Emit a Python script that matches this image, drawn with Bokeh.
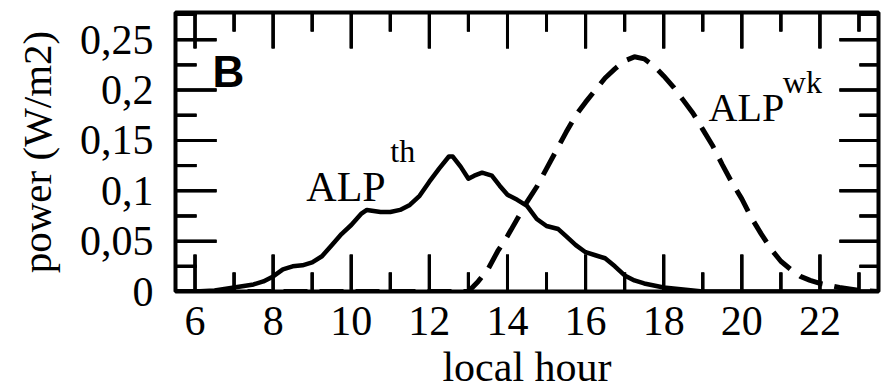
import math
from bokeh.plotting import figure
from bokeh.models import (LinearAxis, FixedTicker, Range1d, Label, ColumnDataSource,
                          BoxAnnotation)
from bokeh.embed import file_html
from bokeh.resources import INLINE

# ALP^th (solid curve)
hours_th = [5.5, 6.0, 6.5, 7.0, 7.5, 7.75, 8.0, 8.25, 8.5, 8.75, 9.0, 9.25, 9.5, 9.75,
            10.0, 10.25, 10.4, 10.75, 11.0, 11.25, 11.5, 11.75, 12.0, 12.25, 12.5, 12.6,
            12.8, 13.0, 13.15, 13.35, 13.6, 13.8, 14.0, 14.25, 14.5, 14.75, 15.0, 15.3,
            15.5, 15.75, 16.0, 16.25, 16.5, 16.75, 17.0, 17.25, 17.5, 17.75, 18.0, 18.5,
            19.0, 23.5]
power_th = [0.0, 0.0, 0.001, 0.004, 0.007, 0.010, 0.015, 0.022, 0.025, 0.026, 0.029, 0.035,
            0.046, 0.057, 0.066, 0.077, 0.081, 0.079, 0.079, 0.081, 0.086, 0.095, 0.109,
            0.122, 0.134, 0.134, 0.124, 0.112, 0.115, 0.118, 0.115, 0.105, 0.096, 0.091,
            0.085, 0.072, 0.065, 0.062, 0.055, 0.046, 0.039, 0.036, 0.033, 0.025, 0.016,
            0.011, 0.008, 0.006, 0.004, 0.002, 0.0, 0.0]

# ALP^wk (dashed curve)
hours_wk = [5.5, 13.0, 13.25, 13.5, 13.75, 14.0, 14.25, 14.5, 14.75, 15.0, 15.25, 15.5,
            15.75, 16.0, 16.25, 16.5, 16.75, 17.0, 17.25, 17.5, 17.75, 18.0, 18.25, 18.5,
            18.75, 19.0, 19.25, 19.5, 19.75, 20.0, 20.25, 20.5, 20.75, 21.0, 21.25, 21.5,
            21.75, 22.0, 22.5, 23.0, 23.5]
power_wk = [0.0, 0.0, 0.010, 0.022, 0.040, 0.055, 0.072, 0.089, 0.104, 0.122, 0.140, 0.158,
            0.175, 0.188, 0.200, 0.212, 0.221, 0.229, 0.233, 0.231, 0.224, 0.214, 0.203,
            0.190, 0.177, 0.161, 0.145, 0.126, 0.108, 0.092, 0.073, 0.057, 0.042, 0.030,
            0.022, 0.015, 0.011, 0.008, 0.004, 0.001, 0.0]

x_ticks = [6, 8, 10, 12, 14, 16, 18, 20, 22]
x_tick_labels = ["6", "8", "10", "12", "14", "16", "18", "20", "22"]
x_minor_ticks = [7, 9, 11, 13, 15, 17, 19, 21, 23]
y_ticks = [0, 0.05, 0.1, 0.15, 0.2, 0.25]
y_tick_labels = ["0", "0,05", "0,1", "0,15", "0,2", "0,25"]
y_minor_ticks = [0.025, 0.075, 0.125, 0.175, 0.225, 0.275]

X_MIN, X_MAX = 5.5, 23.5
Y_MIN, Y_MAX = 0.0, 0.277

W, H = 881, 392
B_LEFT, B_RIGHT, B_TOP, B_BOTTOM = 175, 3, 12, 100
FRAME_W = W - B_LEFT - B_RIGHT
FRAME_H = H - B_TOP - B_BOTTOM
PX_X = (X_MAX - X_MIN) / FRAME_W   # data units per screen pixel
PX_Y = (Y_MAX - Y_MIN) / FRAME_H

SERIF = "Liberation Serif"

p = figure(width=W, height=H, x_range=Range1d(X_MIN, X_MAX), y_range=Range1d(Y_MIN, Y_MAX),
           output_backend="svg", toolbar_location=None,
           x_axis_location=None, y_axis_location=None,
           min_border_left=B_LEFT, min_border_right=B_RIGHT,
           min_border_top=B_TOP, min_border_bottom=B_BOTTOM)
p.grid.visible = False
p.background_fill_color = "white"
p.border_fill_color = "white"
p.outline_line_color = "black"
p.outline_line_width = 4


def make_axis(ticks, labels, standoff):
    ax = LinearAxis(ticker=FixedTicker(ticks=ticks, minor_ticks=[]))
    ax.axis_line_color = None
    ax.major_tick_in = 0
    ax.major_tick_out = 0
    ax.minor_tick_in = 0
    ax.minor_tick_out = 0
    ax.major_tick_line_color = None
    ax.minor_tick_line_color = None
    ax.major_label_text_font = SERIF
    ax.major_label_text_color = "black"
    ax.major_label_text_font_size = "42px"
    ax.major_label_standoff = standoff
    ax.major_label_overrides = dict(zip(ticks, labels))
    return ax


xb = make_axis(x_ticks, x_tick_labels, 15)
xb.axis_label = "local hour"
xb.axis_label_text_font = SERIF
xb.axis_label_text_font_size = "42px"
xb.axis_label_text_font_style = "normal"
xb.axis_label_text_color = "black"
xb.axis_label_standoff = 6
p.add_layout(xb, "below")

yl = make_axis(y_ticks, y_tick_labels, 22)
yl.axis_label = "power (W/m2)"
yl.axis_label_text_font = SERIF
yl.axis_label_text_font_size = "41px"
yl.axis_label_text_font_style = "normal"
yl.axis_label_text_color = "black"
yl.axis_label_standoff = 17
p.add_layout(yl, "left")

src_th = ColumnDataSource(dict(x=hours_th, y=power_th))
src_wk = ColumnDataSource(dict(x=hours_wk, y=power_wk))
p.line("x", "y", source=src_wk, line_color="black", line_width=5, line_dash="24 12")
p.line("x", "y", source=src_th, line_color="black", line_width=4.5, line_join="round")

# ---- inward tick marks (lengths in screen pixels) ----
major_len = {"bottom": 37, "top": 36, "left": 41, "right": 39}
minor_len = {"bottom": 19, "top": 19, "left": 21, "right": 19}
TW = 3  # tick thickness, px

# one record per tick: centre point (data), angle, length (px), and box extents
tx, ty, tang, tlen = [], [], [], []
boxes = []
for side, edge, sign in (("bottom", Y_MIN, 1), ("top", Y_MAX, -1)):
    for ticks_, lens in ((x_ticks, major_len), (x_minor_ticks, minor_len)):
        for t in ticks_:
            ln = lens[side]
            tx.append(t)
            ty.append(edge + sign * ln / 2 * PX_Y)
            tang.append(math.pi / 2)
            tlen.append(ln)
            y_a, y_b = edge, edge + sign * ln * PX_Y
            boxes.append((t - TW / 2 * PX_X, t + TW / 2 * PX_X, min(y_a, y_b), max(y_a, y_b)))
for side, edge, sign in (("left", X_MIN, 1), ("right", X_MAX, -1)):
    for ticks_, lens in ((y_ticks, major_len), (y_minor_ticks, minor_len)):
        for t in ticks_:
            ln = lens[side]
            tx.append(edge + sign * ln / 2 * PX_X)
            ty.append(t)
            tang.append(0.0)
            tlen.append(ln)
            x_a, x_b = edge, edge + sign * ln * PX_X
            boxes.append((min(x_a, x_b), max(x_a, x_b), t - TW / 2 * PX_Y, t + TW / 2 * PX_Y))

tick_src = ColumnDataSource(dict(x=tx, y=ty, angle=tang, size=tlen))
# ticks as "dash" markers (a straight stroke of the given length, rotated)
p.scatter("x", "y", source=tick_src, marker="dash", size="size", angle="angle",
          line_color="black", line_width=TW, level="overlay")
# the same ticks as thin rectangles in screen units
p.rect("x", "y", width="size", height=TW, angle="angle", width_units="screen",
       height_units="screen", source=tick_src, fill_color="black", line_color=None,
       level="overlay")
# and as box annotations
for l, r, b, t in boxes:
    p.add_layout(BoxAnnotation(left=l, right=r, bottom=b, top=t, fill_color="black",
                               fill_alpha=1.0, line_color=None, level="overlay"))

p.add_layout(Label(x=6.45, y=0.218, text="B", text_font="Liberation Sans", text_font_style="bold",
                   text_font_size="44px", text_color="black", text_baseline="alphabetic"))
p.add_layout(Label(x=8.85, y=0.104, text="ALP", text_font=SERIF, text_font_size="42px",
                   text_color="black", text_baseline="alphabetic"))
p.add_layout(Label(x=11.0, y=0.139, text="th", text_font=SERIF, text_font_size="32px",
                   text_color="black", text_baseline="alphabetic"))
p.add_layout(Label(x=19.15, y=0.183, text="ALP", text_font=SERIF, text_font_size="40px",
                   text_color="black", text_baseline="alphabetic"))
p.add_layout(Label(x=21.05, y=0.208, text="wk", text_font=SERIF, text_font_size="32px",
                   text_color="black", text_baseline="alphabetic"))

open("out.html", "w").write(file_html(p, INLINE))
